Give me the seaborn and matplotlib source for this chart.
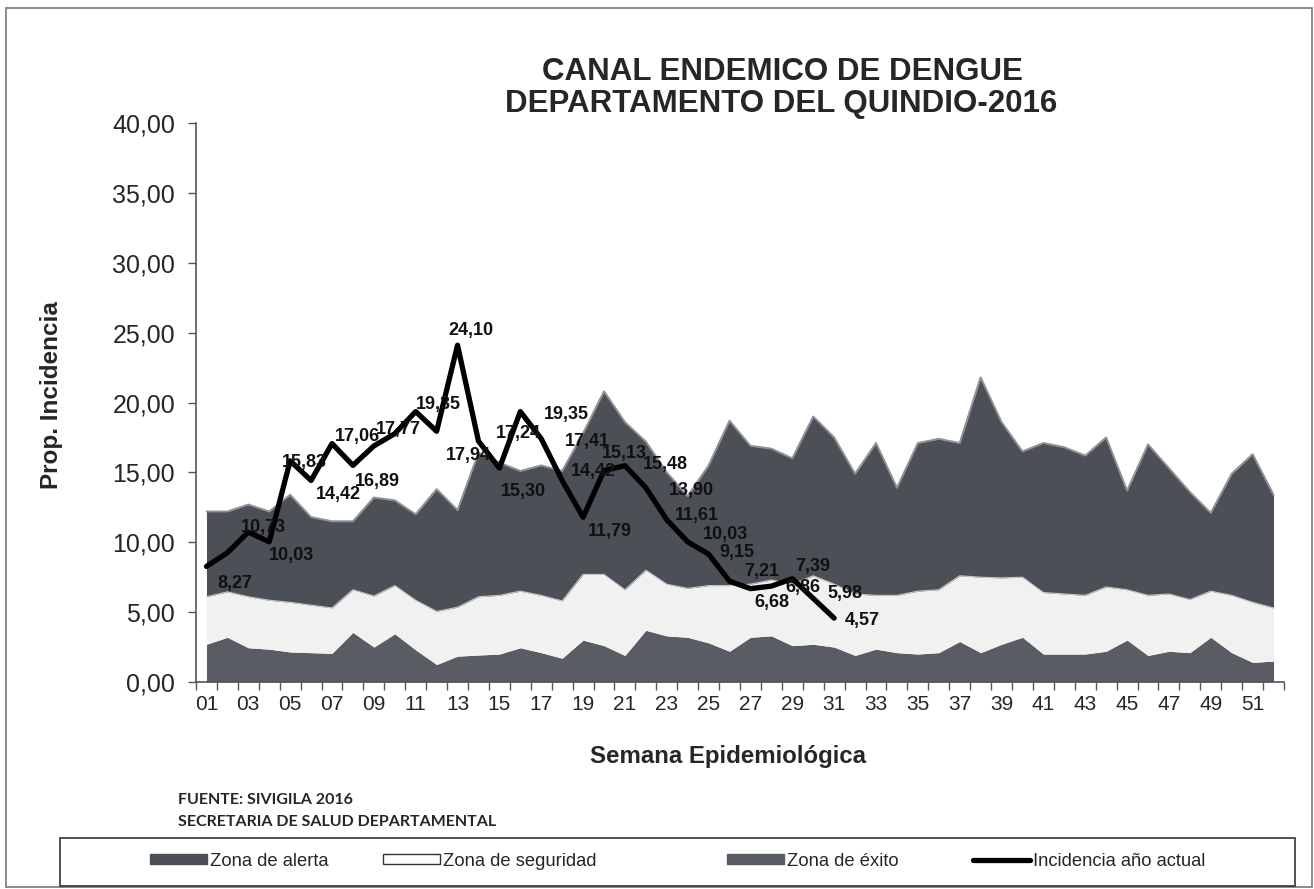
import numpy as np
import matplotlib
matplotlib.use("Agg")
import matplotlib.pyplot as plt
from matplotlib.patches import Patch, Rectangle
from matplotlib.lines import Line2D
import seaborn as sns

# ---------------- data ----------------
semanas = list(range(1, 53))
semana_labels = [f"{s:02d}" for s in range(1, 52, 2)]

# upper boundary of each zone (percentile curves)
exito = [2.7, 3.2, 2.45, 2.35, 2.15, 2.1, 2.05, 3.55, 2.5, 3.45, 2.3, 1.25, 1.85,
         1.93, 2.0, 2.45, 2.1, 1.7, 3.0, 2.6, 1.9, 3.7, 3.3, 3.2, 2.8, 2.2,
         3.2, 3.3, 2.6, 2.7, 2.5, 1.9, 2.35, 2.1, 2.0, 2.1, 2.9, 2.1, 2.7,
         3.2, 2.0, 2.0, 2.0, 2.2, 3.0, 1.9, 2.2, 2.1, 3.2, 2.1, 1.4, 1.5]
seguridad = [6.1, 6.45, 6.1, 5.85, 5.7, 5.5, 5.3, 6.6, 6.15, 6.9, 5.85, 5.05, 5.35,
             6.1, 6.2, 6.5, 6.2, 5.8, 7.7, 7.7, 6.6, 8.0, 7.0, 6.7, 6.9, 6.9,
             7.0, 7.3, 7.0, 7.6, 7.0, 6.3, 6.2, 6.2, 6.5, 6.6, 7.6, 7.5, 7.45,
             7.5, 6.4, 6.3, 6.2, 6.8, 6.6, 6.2, 6.3, 5.9, 6.5, 6.2, 5.7, 5.3]
alerta = [12.2, 12.2, 12.7, 12.2, 13.4, 11.8, 11.5, 11.5, 13.2, 13.0, 12.0, 13.8, 12.3,
          16.4, 15.7, 15.1, 15.5, 15.1, 17.8, 20.8, 18.6, 17.2, 15.0, 13.3, 15.5, 18.7,
          16.9, 16.7, 16.0, 19.0, 17.5, 14.9, 17.1, 13.9, 17.1, 17.4, 17.1, 21.8, 18.6,
          16.5, 17.1, 16.8, 16.2, 17.5, 13.7, 17.0, 15.3, 13.6, 12.1, 14.9, 16.3, 13.4]

semanas_2016 = list(range(1, 32))
incidencia = [8.27, 9.25, 10.73, 10.03, 15.83, 14.42, 17.06, 15.50, 16.89, 17.77,
              19.35, 17.94, 24.10, 17.24, 15.30, 19.35, 17.41, 14.42, 11.79, 15.13,
              15.48, 13.90, 11.61, 10.03, 9.15, 7.21, 6.68, 6.86, 7.39, 5.98, 4.57]
# weeks whose value is printed on the chart
semanas_etiqueta = [1, 3, 4, 5, 6, 7, 9, 10, 11, 12, 13, 14, 15, 16, 17, 18, 19,
                    20, 21, 22, 23, 24, 25, 26, 27, 28, 29, 30, 31]
# label offsets in pixels (right, down) from each point
offs = [(28, 17), (15, -5), (22, 14), (14, 2), (27, 14), (25, -7), (4, 36), (4, -4),
        (23, -7), (32, 24), (13, -15), (40, -8), (24, 23), (46, 3), (46, 3),
        (31, -9), (27, 14), (20, -17), (40, -1), (46, 3), (30, -4), (38, -7),
        (28, -2), (32, -10), (21, 14), (31, 1), (20, -12), (32, -5), (28, 2)]

legend_labels = ["Zona de alerta", "Zona de seguridad", "Zona de éxito",
                 "Incidencia año actual"]

c_alerta = "#4b5056"
c_seg = "#f1f1f1"
c_exito = "#595d63"

sns.set_theme(style="white")
plt.rcParams["font.family"] = ["Liberation Sans", "DejaVu Sans"]

W, H = 1314, 889
fig = plt.figure(figsize=(W / 100, H / 100), dpi=100)
ax = fig.add_axes([196 / W, 1 - 682 / H, (1284 - 196) / W, (682 - 123) / H])

ax.fill_between(semanas, 0, exito, color=c_exito, lw=0)
ax.fill_between(semanas, exito, seguridad, color=c_seg, lw=0)
ax.fill_between(semanas, seguridad, alerta, color=c_alerta, lw=0)
ax.plot(semanas, alerta, color="#8d9094", lw=1.4)
ax.plot(semanas, seguridad, color="#c8c8c8", lw=0.8)

sns.lineplot(x=semanas_2016, y=incidencia, color="black", linewidth=3.8, ax=ax,
             legend=False)

for s, (dx, dy) in zip(semanas_etiqueta, offs):
    v = incidencia[s - 1]
    ax.annotate(f"{v:.2f}".replace(".", ","), (s, v), xytext=(dx * 0.72, -dy * 0.72),
                textcoords="offset points", ha="center", va="center",
                fontsize=13, fontweight="bold", color="#111111")

ax.set_xlim(0.5, 52.5)
ax.set_ylim(0, 40)
ax.set_xticks(range(1, 52, 2))
ax.set_xticklabels(semana_labels, fontsize=15)
ax.set_xticks(np.arange(0.5, 53, 1), minor=True)
yt = np.arange(0, 41, 5)
ax.set_yticks(yt)
ax.set_yticklabels([f"{v:.2f}".replace(".", ",") for v in yt], fontsize=18)
ax.tick_params(axis="x", which="major", length=0, pad=9, bottom=True)
ax.tick_params(axis="x", which="minor", length=6, width=1, direction="out",
               bottom=True, color="#555555")
ax.tick_params(axis="y", length=6, width=1, direction="out", left=True, pad=9,
               color="#555555")
for side in ["top", "right"]:
    ax.spines[side].set_visible(False)
for side in ["left", "bottom"]:
    ax.spines[side].set_color("#555555")
    ax.spines[side].set_linewidth(1.2)
ax.grid(False)

# titles and axis names
fig.text(782 / W, 1 - 72 / H, "CANAL ENDEMICO DE DENGUE", ha="center", va="center",
         fontsize=22.5, fontweight="bold")
fig.text(781 / W, 1 - 104 / H, "DEPARTAMENTO DEL QUINDIO-2016", ha="center",
         va="center", fontsize=22.5, fontweight="bold")
fig.text(52 / W, 1 - 395 / H, "Prop. Incidencia", rotation=90, ha="center",
         va="center", fontsize=17.5, fontweight="bold")
fig.text(728 / W, 1 - 757 / H, "Semana Epidemiológica", ha="center", va="center",
         fontsize=17.3, fontweight="bold")
fig.text(178 / W, 1 - 800 / H, "FUENTE: SIVIGILA 2016", ha="left", va="center",
         fontsize=11.5, fontweight="bold", family=["Lato", "DejaVu Sans"])
fig.text(178 / W, 1 - 822 / H, "SECRETARIA DE SALUD DEPARTAMENTAL", ha="left",
         va="center", fontsize=11.5, fontweight="bold", family=["Lato", "DejaVu Sans"])

# outer chart border and legend box
fig.patches.append(Rectangle((6 / W, 1 - 887 / H), (1312 - 6) / W, (887 - 8) / H,
                             transform=fig.transFigure, fill=False,
                             edgecolor="#777777", lw=1.2))
fig.patches.append(Rectangle((60 / W, 1 - 886 / H), (1295 - 60) / W, (886 - 838) / H,
                             transform=fig.transFigure, fill=False,
                             edgecolor="#333333", lw=1.2))

handles = [Patch(facecolor=c_alerta, edgecolor=c_alerta),
           Patch(facecolor="white", edgecolor="#333333"),
           Patch(facecolor=c_exito, edgecolor=c_exito),
           Line2D([0], [0], color="black", lw=3.8)]
legend_x = [150, 383, 727, 973]
for h, lab, lx in zip(handles, legend_labels, legend_x):
    fig.legend([h], [lab], loc="center left", bbox_to_anchor=(lx / W, 1 - 861 / H),
               frameon=False, fontsize=13.2, handlelength=3.1, handleheight=0.5,
               handletextpad=0.15, borderpad=0, borderaxespad=0)

fig.savefig("out.png", dpi=100)
